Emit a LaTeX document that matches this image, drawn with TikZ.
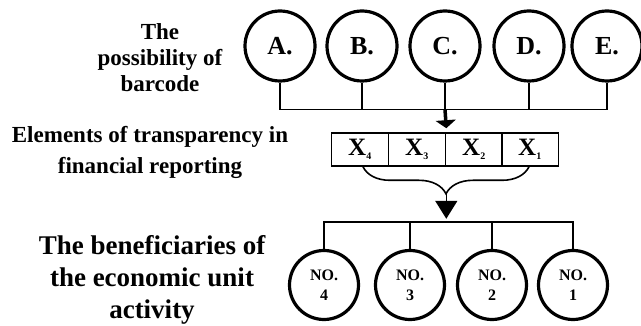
\documentclass[tikz,border=0pt]{standalone}
\usepackage{fontspec}
\setmainfont{Liberation Serif}
\usetikzlibrary{arrows.meta,positioning,decorations.pathreplacing}

\begin{document}
\begin{tikzpicture}[x=1pt,y=-1pt,on grid,node distance=83pt,line width=1.6pt]
  \tikzstyle{letter}=[circle,draw,line width=3.2pt,inner sep=0pt,minimum size=70pt,font=\bfseries\fontsize{26}{26}\selectfont]
  \tikzstyle{user}=[circle,draw,line width=3.2pt,inner sep=0pt,minimum size=69pt,align=center,font=\bfseries\fontsize{16}{20}\selectfont]
  \tikzstyle{cell}=[draw,line width=1.6pt,minimum width=57pt,minimum height=33pt,inner sep=0pt,font=\bfseries\fontsize{25}{25}\selectfont]
  \tikzstyle{label}=[align=center,font=\bfseries]
  \tikzstyle{fat}=[line width=3.5pt,-{Triangle[length=8pt,width=20pt]}]

  \useasboundingbox (0,0) rectangle (641,326);

  % barcode options
  \node[letter] (A) at (280,46) {A.};
  \node[letter] (B) [right=82pt of A] {B.};
  \node[letter] (C) [right=83pt of B] {C.};
  \node[letter] (D) [right=84pt of C] {D.};
  \node[letter] (E) [right=78pt of D] {E.};

  % transparency elements
  \node[cell] (X4) at (360,149.5) {X\textsubscript{\fontsize{10}{10}\selectfont 4}};
  \node[cell] (X3) [right=57pt of X4] {X\textsubscript{\fontsize{10}{10}\selectfont 3}};
  \node[cell] (X2) [right=57pt of X3] {X\textsubscript{\fontsize{10}{10}\selectfont 2}};
  \node[cell] (X1) [right=56pt of X2] {X\textsubscript{\fontsize{10}{10}\selectfont 1}};

  % beneficiaries
  \node[user] (N4) at (324,285) {NO.\\4};
  \node[user] (N3) [right=86pt of N4] {NO.\\3};
  \node[user] (N2) [right=82pt of N3] {NO.\\2};
  \node[user] (N1) [right=81pt of N2] {NO.\\1};

  \node[label,font=\bfseries\fontsize{23}{26}\selectfont] (barcode) at (160,58)
    {The\\possibility of\\barcode};
  \node[label,font=\bfseries\fontsize{23}{31}\selectfont] (elements) at (150,152)
    {Elements of transparency in\\financial reporting};
  \node[label,font=\bfseries\fontsize{27}{32}\selectfont] (users) at (152,280)
    {The beneficiaries of\\the economic unit\\activity};

  \coordinate (bus) at ([yshift=-27pt]C.south);
  \coordinate (bus2) at ([yshift=27pt]N4.north);
  \coordinate (bl) at ([xshift=3pt]X4.south);
  \coordinate (br) at ([xshift=-1pt]X1.south);

  \draw (A.south) |- (bus) -| (E.south);
  \foreach \n in {B,C,D}
    \draw (\n.south) -- (\n.south |- bus);
  \draw[fat] (bus) -- ([yshift=4pt]X3.north east);

  \draw[decorate,decoration={brace,mirror,amplitude=27pt,aspect=0.5}] (bl) -- (br);
  \draw[-{Triangle[length=18pt,width=22pt]}] ([yshift=-27pt]X3.south east) -- ++(0,25);

  \draw (N4.north) -- (bus2) -| (N1.north);
  \foreach \n in {N3,N2}
    \draw (\n.north) -- (\n.north |- bus2);
\end{tikzpicture}
\end{document}
